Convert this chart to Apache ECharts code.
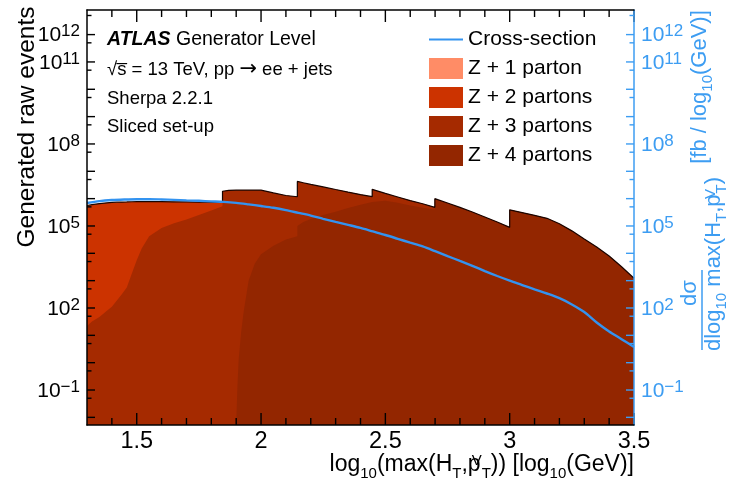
<!DOCTYPE html>
<html>
<head>
<meta charset="utf-8">
<script src="https://cdn.jsdelivr.net/npm/echarts@6/dist/echarts.min.js"></script>
<style>
html, body { margin: 0; padding: 0; background: #ffffff; }
#chart { width: 731px; height: 487px; }
</style>
</head>
<body>
<div id="chart"></div>
<script>
// Sample points in log10(max(HT, pT^V)); a repeated point marks a slice boundary.
const logHT = [
  1.30, 1.32, 1.35, 1.38, 1.40, 1.42, 1.44, 1.46, 1.48, 1.50, 1.52, 1.55, 1.60, 1.65, 1.70, 1.75, 1.80, 1.845,
  1.845, 1.87, 1.90, 1.905, 1.91, 1.92, 1.93, 1.95, 1.975, 2.00, 2.05, 2.10, 2.146,
  2.146, 2.17, 2.20, 2.25, 2.30, 2.35, 2.40, 2.447,
  2.447, 2.50, 2.55, 2.60, 2.65, 2.699,
  2.699, 2.75, 2.80, 2.85, 2.90, 2.95, 3.00,
  3.00, 3.05, 3.10, 3.15, 3.20, 3.25, 3.30, 3.35, 3.40, 3.45, 3.50
];

// Generated raw events per parton multiplicity at each sample point.
const zPlus1 = [];
const zPlus2 = [
  5.62e5, 6.03e5, 6.61e5, 7.00e5, 7.24e5, 7.41e5, 7.50e5, 7.58e5, 7.66e5, 7.71e5, 7.61e5, 7.35e5, 6.91e5, 6.41e5, 5.85e5, 4.99e5, 3.70e5, 2.00e5,
  0, 0, 0, 0, 0, 0, 0, 0, 0, 0, 0, 0, 0,
  0, 0, 0, 0, 0, 0, 0, 0,
  0, 0, 0, 0, 0, 0,
  0, 0, 0, 0, 0, 0, 0,
  0, 0, 0, 0, 0, 0, 0, 0, 0, 0, 0
];
const zPlus3 = [
  22, 32, 47, 79, 112, 186, 316, 562, 1.8e3, 5.6e3, 1.5e4, 4.2e4, 8.5e4, 1.26e5, 1.74e5, 2.51e5, 3.72e5, 5.25e5,
  1.86e6, 2.00e6, 2.04e6, 2.04e6, 2.04e6, 2.04e6, 2.04e6, 2.04e6, 2.04e6, 2.03e6, 1.60e6, 1.27e6, 1.13e6,
  4.17e6, 3.66e6, 3.13e6, 2.44e6, 1.83e6, 1.29e6, 8.1e5, 4.2e5,
  1.30e6, 7.2e5, 4.4e5, 2.9e5, 1.9e5, 8.1e4,
  3.0e4, 2.0e4, 1.3e4, 8.5e3, 5.5e3, 3.5e3, 2.1e3,
  8.0e3, 6.0e3, 5.0e3, 4.0e3, 2.5e3, 1.3e3, 650, 350, 160, 65, 25
];
const zPlus4 = [
  0, 0, 0, 0, 0, 0, 0, 0, 0, 0, 0, 0, 0, 0, 0, 0, 0, 0,
  0, 0, 0, 0.13, 1.3, 13, 71, 1.0e3, 4.2e3, 9.3e3, 1.9e4, 3.2e4, 4.2e4,
  1.0e5, 1.4e5, 1.8e5, 2.5e5, 3.3e5, 4.5e5, 6.0e5, 7.6e5,
  8.9e5, 8.3e5, 7.1e5, 5.6e5, 4.6e5, 4.0e5,
  9.7e5, 6.7e5, 4.65e5, 3.15e5, 2.08e5, 1.37e5, 8.7e4,
  3.81e5, 3.03e5, 2.40e5, 1.87e5, 1.18e5, 6.5e4, 3.25e4, 1.66e4, 7.8e3, 3.17e3, 1.2e3
];

// Cross-section dσ/dlog10(max(HT, pT^V)) in fb per log10(GeV).
const xsecLogHT = [
  1.30, 1.35, 1.40, 1.45, 1.50, 1.55, 1.60, 1.65, 1.70, 1.75, 1.80, 1.85, 1.90, 1.95, 2.00,
  2.05, 2.10, 2.15, 2.20, 2.25, 2.30, 2.35, 2.40, 2.45, 2.50, 2.55, 2.60, 2.65, 2.70, 2.75,
  2.80, 2.85, 2.90, 2.95, 3.00, 3.05, 3.10, 3.15, 3.20, 3.25, 3.30, 3.35, 3.40, 3.45, 3.50
];
const xsecFb = [
  6.92e5, 8.13e5, 8.91e5, 9.33e5, 9.55e5, 9.55e5, 9.33e5, 9.02e5, 8.61e5, 8.32e5, 7.94e5, 7.59e5, 7.00e5, 6.17e5, 5.37e5,
  4.62e5, 3.80e5, 3.02e5, 2.40e5, 1.82e5, 1.41e5, 1.10e5, 8.51e4, 6.31e4, 4.68e4, 3.39e4, 2.45e4, 1.78e4, 1.20e4, 7.94e3,
  5.25e3, 3.47e3, 2.24e3, 1.48e3, 1.00e3, 692, 479, 339, 229, 135, 70.8, 29.5, 13.8, 7.24, 3.72
];

// Axis ticks and labels.
const xLabelValues = [1.5, 2, 2.5, 3, 3.5];
const xMinorTicks = [1.4, 1.6, 1.7, 1.8, 1.9, 2.1, 2.2, 2.3, 2.4, 2.6, 2.7, 2.8, 2.9, 3.1, 3.2, 3.3, 3.4];
const yLabelValues = [1e-1, 1e2, 1e5, 1e8, 1e11, 1e12];
const yDecadeTicks = [1e-2, 1e-1, 1, 1e1, 1e2, 1e3, 1e4, 1e5, 1e6, 1e7, 1e8, 1e9, 1e10, 1e11, 1e12];
const yMinorTicks = [5e-2, 5e-1, 5, 5e1, 5e2, 5e3, 5e4, 5e5, 5e6, 5e7, 5e8, 5e9, 5e10, 5e11, 5e12];

const X_MIN = 1.3, X_MAX = 3.5;
const Y_MIN = 5.25e-3, Y_MAX = 7.94e12;

const FONT = "'Liberation Sans', Arial, Helvetica, sans-serif";
const BLUE = '#3d9df2';
const LINE_BLUE = '#3393f0';
const COLORS = { z1: '#ff8c66', z2: '#cc3300', z3: '#a52a00', z4: '#932600' };

// Stacked levels: Z+4 at the bottom, then Z+3, then Z+2 on top.
function stackedLevel(parts) {
  return logHT.map((x, i) => {
    let sum = 0;
    parts.forEach(p => { sum += p[i]; });
    return [x, Math.max(sum, Y_MIN)];
  });
}
const level4 = stackedLevel([zPlus4]);
const level3 = stackedLevel([zPlus4, zPlus3]);
const level2 = stackedLevel([zPlus4, zPlus3, zPlus2]);

function fillSeries(name, color, data) {
  return {
    name, type: 'line', data, symbol: 'none', silent: true, z: 2,
    lineStyle: { width: 0, color },
    itemStyle: { color },
    areaStyle: { color, opacity: 1, origin: 'start' },
    emphasis: { disabled: true }
  };
}

// Inward-pointing frame ticks, placed through the axis scales.
function tickSeries(values, side, length, color) {
  const vertical = side === 'bottom' || side === 'top';
  const dir = { bottom: [0, -length], top: [0, length], left: [length, 0], right: [-length, 0] }[side];
  return {
    type: 'custom', silent: true, z: 6, clip: false,
    xAxisIndex: 0, yAxisIndex: side === 'right' ? 1 : 0,
    data: values.map(v => vertical
      ? [v, side === 'bottom' ? Y_MIN : Y_MAX]
      : [side === 'left' ? X_MIN : X_MAX, v]),
    renderItem(params, api) {
      const p = api.coord([api.value(0), api.value(1)]);
      return {
        type: 'line',
        shape: { x1: p[0], y1: p[1], x2: p[0] + dir[0], y2: p[1] + dir[1] },
        style: { stroke: color, lineWidth: 1.4 }
      };
    }
  };
}

function powerLabel(v) {
  const e = Math.round(Math.log10(v));
  return '{b|10}{s|' + (e < 0 ? '\u2212' + (-e) : String(e)) + '}';
}

const labelRich = (color) => ({
  b: { fontSize: 21, fontFamily: FONT, color, lineHeight: 23, verticalAlign: 'bottom' },
  s: { fontSize: 17, fontFamily: FONT, color, lineHeight: 12, verticalAlign: 'top' }
});

function yAxisBase(position, color) {
  return {
    type: 'log', logBase: 10, min: Y_MIN, max: Y_MAX, position, z: 10,
    axisLine: { show: true, onZero: false, lineStyle: { color, width: 1.5 } },
    axisTick: { show: false },
    axisLabel: { show: true, customValues: yLabelValues, margin: 7, formatter: powerLabel, rich: labelRich(color) },
    splitLine: { show: false },
    minorTick: { show: false }
  };
}

function xAxisBase(position, labels) {
  return {
    type: 'value', min: X_MIN, max: X_MAX, position, z: 10,
    axisLine: { show: true, onZero: false, lineStyle: { color: '#000', width: 1.5 } },
    axisTick: { show: false },
    axisLabel: labels ? {
      show: true, customValues: labels, margin: 5, fontSize: 23.5, fontFamily: FONT, color: '#000',
      formatter: v => String(v)
    } : { show: false },
    splitLine: { show: false }
  };
}

const chart = echarts.init(document.getElementById('chart'), null, { renderer: 'canvas' });

const txt = (extra) => Object.assign({ fontFamily: FONT, fill: '#000' }, extra);
const leftMid = { align: 'left', verticalAlign: 'middle', textAlign: 'left', textVerticalAlign: 'middle' };
const centerMid = { align: 'center', verticalAlign: 'middle', textAlign: 'center', textVerticalAlign: 'middle' };

chart.setOption({
  animation: false,
  backgroundColor: '#ffffff',
  grid: { left: 87, right: 97, top: 10, bottom: 62, containLabel: false },
  xAxis: [
    xAxisBase('bottom', xLabelValues),
    xAxisBase('top', null)
  ],
  yAxis: [
    yAxisBase('left', '#000'),
    yAxisBase('right', BLUE)
  ],
  legend: {
    orient: 'vertical', left: 428, top: 29, padding: 0,
    itemWidth: 34, itemHeight: 21, itemGap: 8,
    selectedMode: false,
    textStyle: { fontSize: 21, fontFamily: FONT, color: '#000' },
    itemStyle: { borderWidth: 0 },
    data: [
      { name: 'Cross-section', itemStyle: { opacity: 0 } },
      { name: 'Z + 1 parton', icon: 'rect' },
      { name: 'Z + 2 partons', icon: 'rect' },
      { name: 'Z + 3 partons', icon: 'rect' },
      { name: 'Z + 4 partons', icon: 'rect' }
    ]
  },
  series: [
    fillSeries('Z + 1 parton', COLORS.z1, zPlus1.map((v, i) => [logHT[i], v])),
    fillSeries('Z + 2 partons', COLORS.z2, level2),
    fillSeries('Z + 3 partons', COLORS.z3, level3),
    fillSeries('Z + 4 partons', COLORS.z4, level4),
    {
      name: 'Total', type: 'line', data: level2, symbol: 'none', silent: true, z: 3,
      lineStyle: { color: '#1a0500', width: 1.2 }, emphasis: { disabled: true }
    },
    {
      name: 'Cross-section', type: 'line', yAxisIndex: 1, symbol: 'none', silent: true, z: 4,
      smooth: 0.3,
      data: xsecLogHT.map((x, i) => [x, xsecFb[i]]),
      lineStyle: { color: LINE_BLUE, width: 2.4 },
      itemStyle: { color: LINE_BLUE },
      emphasis: { disabled: true }
    },
    tickSeries(xLabelValues, 'bottom', 12, '#000'),
    tickSeries(xMinorTicks, 'bottom', 7, '#000'),
    tickSeries(xLabelValues, 'top', 12, '#000'),
    tickSeries(xMinorTicks, 'top', 7, '#000'),
    tickSeries(yDecadeTicks, 'left', 8, '#000'),
    tickSeries(yMinorTicks, 'left', 4.5, '#000'),
    tickSeries(yDecadeTicks, 'right', 8, BLUE),
    tickSeries(yMinorTicks, 'right', 4.5, BLUE)
  ],
  graphic: [
    {
      type: 'text', x: 107, y: 40,
      style: txt(Object.assign({
        text: '{a|ATLAS} Generator Level', fontSize: 19.5,
        rich: { a: { fontSize: 19.5, fontFamily: FONT, fontWeight: 'bold', fontStyle: 'italic' } }
      }, leftMid))
    },
    {
      type: 'text', x: 107, y: 70,
      style: txt(Object.assign({
        text: '\u221As\u0305 = 13 TeV, pp {ar|\u2192} ee + jets', fontSize: 18.5,
        rich: { ar: { fontSize: 21, fontFamily: "'DejaVu Sans', sans-serif" } }
      }, leftMid))
    },
    { type: 'text', x: 107, y: 99, style: txt(Object.assign({ text: 'Sherpa 2.2.1', fontSize: 18.5 }, leftMid)) },
    { type: 'text', x: 107, y: 127, style: txt(Object.assign({ text: 'Sliced set-up', fontSize: 18.5 }, leftMid)) },
    {
      type: 'text', x: 27, y: 127, rotation: Math.PI / 2,
      style: txt(Object.assign({ text: 'Generated raw events', fontSize: 24.5 }, centerMid))
    },
    {
      type: 'text', x: 634, y: 467,
      style: txt({
        text: '{n|log}{d|10}{n|(max(H}{d|T}{n|,p}{u|V}{d|T}{n|)) [log}{d|10}{n|(GeV)]}',
        align: 'right', verticalAlign: 'middle', textAlign: 'right', textVerticalAlign: 'middle',
        rich: {
          n: { fontSize: 23, fontFamily: FONT, color: '#000', lineHeight: 28, verticalAlign: 'top' },
          d: { fontSize: 15, fontFamily: FONT, color: '#000', lineHeight: 15, verticalAlign: 'bottom' },
          u: { fontSize: 15, fontFamily: FONT, color: '#000', lineHeight: 12, verticalAlign: 'top', width: 1 }
        }
      })
    },
    {
      type: 'group', x: 702, y: 264, rotation: Math.PI / 2,
      children: [
        {
          type: 'text', x: -29, y: -12,
          style: Object.assign({ text: 'd\u03C3', fontSize: 22, fontFamily: FONT, fill: BLUE }, centerMid)
        },
        {
          type: 'line', shape: { x1: -86, y1: 0, x2: -6, y2: 0 },
          style: { stroke: BLUE, lineWidth: 1.5 }
        },
        {
          type: 'text', x: 0, y: 14,
          style: Object.assign({
            text: '{n|dlog}{d|10}{n| max(H}{d|T}{n|,p}{u|V}{d|T}{n|)}',
            fill: BLUE, fontFamily: FONT,
            rich: {
              n: { fontSize: 22, fontFamily: FONT, color: BLUE, lineHeight: 26, verticalAlign: 'top' },
              d: { fontSize: 15, fontFamily: FONT, color: BLUE, lineHeight: 15, verticalAlign: 'bottom' },
              u: { fontSize: 15, fontFamily: FONT, color: BLUE, lineHeight: 12, verticalAlign: 'top', width: 1 }
            }
          }, centerMid)
        },
        {
          type: 'text', x: 177, y: 0,
          style: Object.assign({
            text: '{n|[fb / log}{d|10}{n|(GeV)]}',
            fill: BLUE, fontFamily: FONT,
            rich: {
              n: { fontSize: 22, fontFamily: FONT, color: BLUE, lineHeight: 26, verticalAlign: 'top' },
              d: { fontSize: 15, fontFamily: FONT, color: BLUE, lineHeight: 15, verticalAlign: 'bottom' }
            }
          }, centerMid)
        }
      ]
    }
  ]
});
</script>
</body>
</html>
